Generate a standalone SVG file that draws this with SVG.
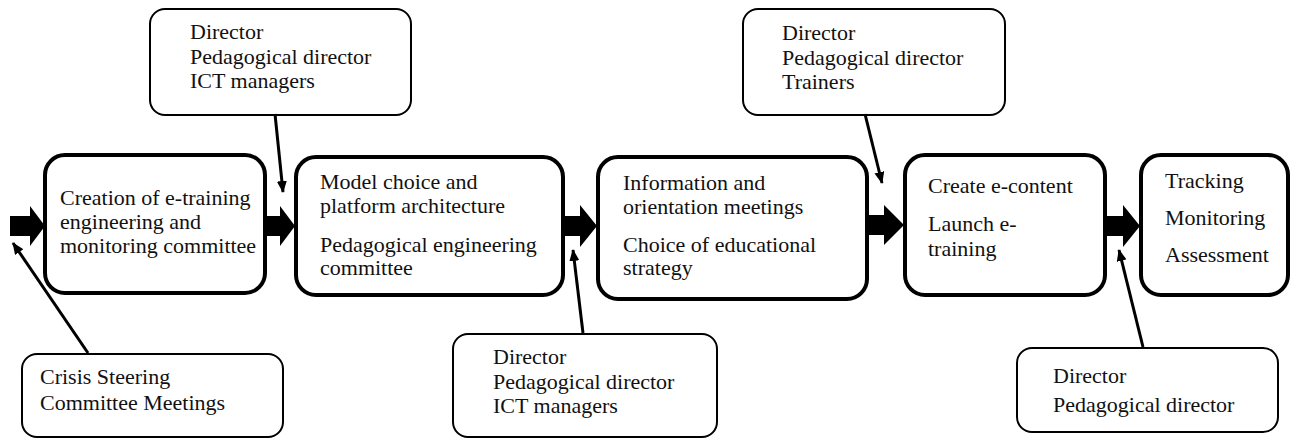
<svg xmlns="http://www.w3.org/2000/svg" width="1291" height="439" viewBox="0 0 1291 439">
<style>
text{font-family:"Liberation Serif","Times New Roman",serif;font-size:22px;fill:#111}
.main{fill:#fff;stroke:#000;stroke-width:4}
.call{fill:#fff;stroke:#000;stroke-width:2}
.blk{fill:#000}
.ln{stroke:#000;stroke-width:3;fill:none}
</style>
<defs>
<marker id="ah" viewBox="0 0 12 10" refX="11" refY="5" markerWidth="12" markerHeight="10" markerUnits="userSpaceOnUse" orient="auto">
<path d="M0,0 L12,5 L0,10 Z" fill="#000"/>
</marker>
</defs>
<rect width="1291" height="439" fill="#fff"/>
<g id="n1"><rect class="main" x="45" y="155" width="220" height="138" rx="20"/>
<text x="60" y="205">Creation of e-training</text><text x="60" y="229">engineering and</text><text x="60" y="253">monitoring committee</text></g>
<g id="n2"><rect class="main" x="296" y="157" width="267" height="138" rx="20"/>
<text x="320" y="189">Model choice and</text><text x="320" y="213">platform architecture</text><text x="320" y="252">Pedagogical engineering</text><text x="320" y="275">committee</text></g>
<g id="n3"><rect class="main" x="598" y="157" width="269" height="142" rx="20"/>
<text x="623" y="190">Information and</text><text x="623" y="214">orientation meetings</text><text x="623" y="252">Choice of educational</text><text x="623" y="275">strategy</text></g>
<g id="n4"><rect class="main" x="905" y="155" width="200" height="140" rx="20"/>
<text x="928" y="193">Create e-content</text><text x="928" y="231">Launch e-</text><text x="928" y="256">training</text></g>
<g id="n5"><rect class="main" x="1141" y="155" width="147" height="140" rx="20"/>
<text x="1165" y="188">Tracking</text><text x="1165" y="225">Monitoring</text><text x="1165" y="262">Assessment</text></g>
<g id="c1"><rect class="call" x="150" y="9" width="261" height="106" rx="15"/>
<text x="190" y="39">Director</text><text x="190" y="64">Pedagogical director</text><text x="190" y="88">ICT managers</text></g>
<g id="c2"><rect class="call" x="22" y="354" width="261" height="83" rx="15"/>
<text x="40" y="384">Crisis Steering</text><text x="40" y="410">Committee Meetings</text></g>
<g id="c3"><rect class="call" x="453" y="334" width="264" height="103" rx="15"/>
<text x="493" y="364">Director</text><text x="493" y="389">Pedagogical director</text><text x="493" y="413">ICT managers</text></g>
<g id="c4"><rect class="call" x="743" y="9" width="262" height="106" rx="15"/>
<text x="782" y="40">Director</text><text x="782" y="65">Pedagogical director</text><text x="782" y="89">Trainers</text></g>
<g id="c5"><rect class="call" x="1017" y="348" width="261" height="84" rx="15"/>
<text x="1053" y="383">Director</text><text x="1053" y="412">Pedagogical director</text></g>
<g id="connectors">
<polygon class="blk" points="10,216 30,216 30,206 45,226 30,246 30,236 10,236"/>
<polygon class="blk" points="263,216 280,216 280,206 295,226 280,246 280,236 263,236"/>
<polygon class="blk" points="563,216 580,216 580,205 597,226 580,247 580,236 563,236"/>
<polygon class="blk" points="867,215 884,215 884,205 904,225 884,245 884,235 867,235"/>
<polygon class="blk" points="1105,216 1123,216 1123,205 1140,226 1123,247 1123,236 1105,236"/>
<line class="ln" x1="88" y1="353" x2="13" y2="243" marker-end="url(#ah)"/>
<line class="ln" x1="275" y1="114" x2="283" y2="192" marker-end="url(#ah)"/>
<line class="ln" x1="583" y1="333" x2="573" y2="250" marker-end="url(#ah)"/>
<line class="ln" x1="865" y1="114" x2="882" y2="183" marker-end="url(#ah)"/>
<line class="ln" x1="1143" y1="347" x2="1119" y2="250" marker-end="url(#ah)"/>
</g>
</svg>
